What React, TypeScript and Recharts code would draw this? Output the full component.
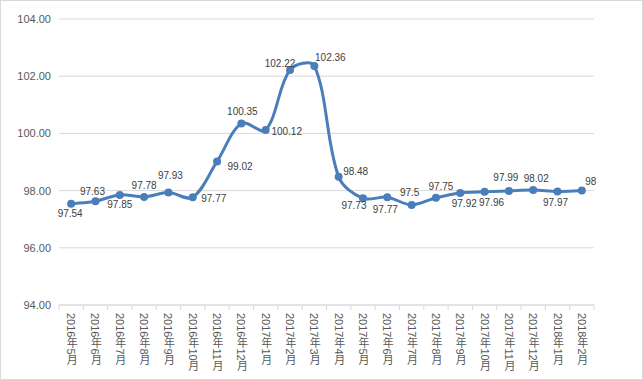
import React from 'react';
import { LineChart, Line, XAxis, YAxis, CartesianGrid, LabelList } from 'recharts';

const categories = [
  '2016年5月', '2016年6月', '2016年7月', '2016年8月', '2016年9月', '2016年10月',
  '2016年11月', '2016年12月', '2017年1月', '2017年2月', '2017年3月', '2017年4月',
  '2017年5月', '2017年6月', '2017年7月', '2017年8月', '2017年9月', '2017年10月',
  '2017年11月', '2017年12月', '2018年1月', '2018年2月',
];
const values = [
  97.54, 97.63, 97.85, 97.78, 97.93, 97.77, 99.02, 100.35, 100.12, 102.22, 102.36,
  98.48, 97.73, 97.77, 97.5, 97.75, 97.92, 97.96, 97.99, 98.02, 97.97, 98,
];
const labelTexts = [
  '97.54', '97.63', '97.85', '97.78', '97.93', '97.77', '99.02', '100.35', '100.12',
  '102.22', '102.36', '98.48', '97.73', '97.77', '97.5', '97.75', '97.92', '97.96',
  '97.99', '98.02', '97.97', '98',
];
const yTicks = [94, 96, 98, 100, 102, 104];

// label offsets (style only)
const labelOffsets: [number, number][] = [
  [-1, 10], [-3, -10], [0, 10], [0, -11], [2, -17], [21, 1], [23, 5], [1, -12],
  [21, 2], [-10, -6], [16, -8], [17, -5], [-9, 7], [-2, 12], [-2, -12], [5, -11],
  [4, 11], [7, 11], [-3, -13], [3, -12], [-2, 11], [9, -9],
];

const data = categories.map((c, i) => ({ name: c, value: values[i], label: labelTexts[i] }));

const W = 643;
const H = 380;
const PLOT_LEFT = 59;
const PLOT_RIGHT = 594;
const PLOT_TOP = 19;
const PLOT_BOTTOM = 305;
const BAND = (PLOT_RIGHT - PLOT_LEFT) / categories.length;
const LINE_COLOR = '#4a7ebb';
const GRID = '#d9d9d9';
const FONT = '"Liberation Sans", "Noto Sans CJK SC", sans-serif';

// Excel-like smooth curve (length-weighted Catmull-Rom as Bezier)
const excelCurve = (context: any) => {
  let pts: [number, number][] = [];
  const dist = (a: [number, number], b: [number, number]) => Math.hypot(b[0] - a[0], b[1] - a[1]);
  return {
    areaStart() {},
    areaEnd() {},
    lineStart() { pts = []; },
    point(x: number, y: number) { pts.push([+x, +y]); },
    lineEnd() {
      if (!pts.length) return;
      context.moveTo(pts[0][0], pts[0][1]);
      for (let i = 1; i < pts.length; i++) {
        const p0 = pts[i - 2] || pts[i - 1];
        const p1 = pts[i - 1];
        const p2 = pts[i];
        const p3 = pts[i + 1] || pts[i];
        const d01 = dist(p0, p1);
        const d12 = dist(p1, p2);
        const d23 = dist(p2, p3);
        const f1 = d01 + d12 > 0 ? d12 / (d01 + d12) / 3 : 0;
        const f2 = d12 + d23 > 0 ? d12 / (d12 + d23) / 3 : 0;
        const c1x = p1[0] + (p2[0] - p0[0]) * f1;
        const c1y = p1[1] + (p2[1] - p0[1]) * f1;
        const c2x = p2[0] - (p3[0] - p1[0]) * f2;
        const c2y = p2[1] - (p3[1] - p1[1]) * f2;
        context.bezierCurveTo(c1x, c1y, c2x, c2y, p2[0], p2[1]);
      }
    },
  };
};

const XTick = (props: any) => {
  const { x, y, payload, index } = props;
  const axisY = y - 8;
  return (
    <g>
      <line x1={x - BAND / 2} x2={x - BAND / 2} y1={axisY} y2={axisY + 5} stroke={GRID} />
      {index === categories.length - 1 && (
        <line x1={x + BAND / 2} x2={x + BAND / 2} y1={axisY} y2={axisY + 5} stroke={GRID} />
      )}
      <text
        x={x}
        y={y}
        fill="#595959"
        fontSize={11}
        fontFamily={FONT}
        style={{ writingMode: 'vertical-rl' } as any}
      >
        {payload.value}
      </text>
    </g>
  );
};

const YTick = (props: any) => {
  const { x, y, payload } = props;
  return (
    <text x={x} y={y} dy={4} textAnchor="end" fill="#595959" fontSize={11} fontFamily={FONT}>
      {Number(payload.value).toFixed(2)}
    </text>
  );
};

const renderLabel = (props: any) => {
  const { x, y, index } = props;
  const [dx, dy] = labelOffsets[index] || [0, -10];
  return (
    <text
      x={x + dx}
      y={y + dy}
      textAnchor="middle"
      dominantBaseline="central"
      fill="#404040"
      fontSize={10}
      fontFamily={FONT}
    >
      {labelTexts[index]}
    </text>
  );
};

export default function App() {
  return (
    <div style={{ position: 'absolute', left: 0, top: 0, width: W, height: H, background: '#fff' }}>
      <LineChart
        width={W}
        height={H}
        data={data}
        margin={{ top: PLOT_TOP, right: W - PLOT_RIGHT, bottom: 0, left: 0 }}
      >
        <CartesianGrid vertical={false} stroke={GRID} />
        <XAxis
          dataKey="name"
          interval={0}
          height={H - PLOT_BOTTOM}
          padding={{ left: BAND / 2, right: BAND / 2 }}
          tickLine={false}
          axisLine={{ stroke: GRID }}
          tick={<XTick />}
        />
        <YAxis
          width={PLOT_LEFT}
          domain={[94, 104]}
          ticks={yTicks}
          tickLine={false}
          axisLine={false}
          tick={<YTick />}
        />
        <Line
          dataKey="value"
          type={excelCurve as any}
          stroke={LINE_COLOR}
          strokeWidth={3}
          dot={{ r: 4, fill: LINE_COLOR, stroke: LINE_COLOR, strokeWidth: 0 }}
          activeDot={false}
          isAnimationActive={false}
        >
          <LabelList dataKey="label" content={renderLabel} />
        </Line>
      </LineChart>
      <div
        style={{
          position: 'absolute', left: 0, top: 0, width: W, height: H,
          boxSizing: 'border-box', border: '1px solid #d9d9d9', pointerEvents: 'none',
        }}
      />
    </div>
  );
}
